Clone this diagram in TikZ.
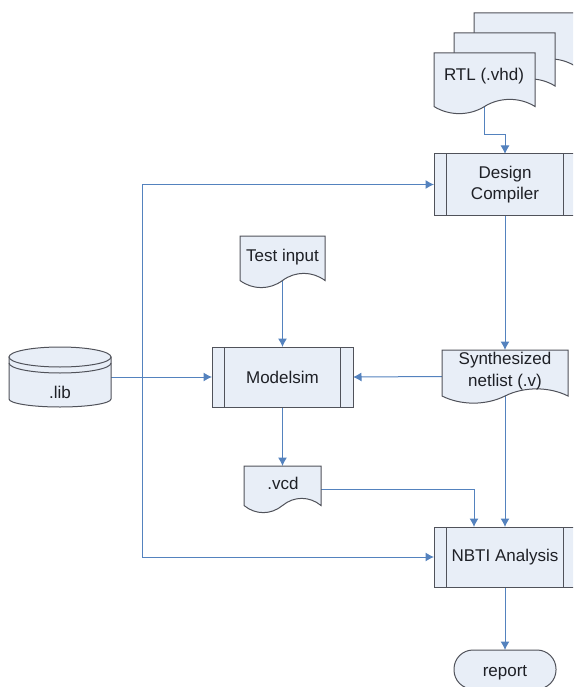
\documentclass[tikz,border=0pt]{standalone}
\usepackage{fontspec}
\setmainfont{Liberation Sans}
\usetikzlibrary{arrows.meta,backgrounds}
\definecolor{shapefill}{RGB}{232,238,247}
\definecolor{shapeline}{RGB}{80,82,90}
\definecolor{linkblue}{RGB}{84,130,190}
\definecolor{txt}{RGB}{30,32,38}
\tikzset{
  x=1pt,y=-1pt,
  outline/.style={draw=shapeline,fill=shapefill,line width=1pt,line join=miter},
  procbox/.style={outline,rectangle,minimum height=61pt,inner sep=0pt,outer sep=0pt,
    font=\fontsize{17}{21.5}\selectfont,text=txt,align=center},
  anchorbox/.style={rectangle,inner sep=0pt,outer sep=0pt},
  lbl/.style={anchor=base,inner sep=0pt,outer sep=0pt,font=\fontsize{17}{22}\selectfont,text=txt,align=center},
  link/.style={draw=linkblue,line width=1pt},
  arr/.style={link,-{Latex[length=8.5pt,width=9pt]}},
}
% name, x1, y1, x2, y2 (wave ends)
\newcommand{\docshape}[5]{%
  \pgfmathsetmacro{\docw}{#4-#2}%
  \pgfmathsetmacro{\dxa}{#2+.15*\docw}\pgfmathsetmacro{\dxb}{#2+.35*\docw}%
  \pgfmathsetmacro{\dxc}{#2+.5*\docw}%
  \pgfmathsetmacro{\dxd}{#2+.65*\docw}\pgfmathsetmacro{\dxe}{#2+.85*\docw}%
  \pgfmathsetmacro{\dyp}{#5+9.5}\pgfmathsetmacro{\dym}{#5-9.5}%
  \pgfmathsetmacro{\dyl}{#5+7}%
  \pgfmathsetmacro{\dhh}{\dyl-#3}%
  \pgfmathsetmacro{\dcx}{(#2+#4)/2}\pgfmathsetmacro{\dcy}{(#3+\dyl)/2}%
  \path[outline] (#2,#3) -- (#4,#3) -- (#4,#5)
    .. controls (\dxe,\dym) and (\dxd,\dym) .. (\dxc,#5)
    .. controls (\dxb,\dyp) and (\dxa,\dyp) .. (#2,#5) -- cycle;
  \node[anchorbox,minimum width=\docw pt,minimum height=\dhh pt] (#1) at (\dcx,\dcy) {};%
}
\newcommand{\bars}[1]{%
  \draw[draw=shapeline,line width=1pt] ([xshift=12pt]#1.north west) -- ([xshift=12pt]#1.south west);
  \draw[draw=shapeline,line width=1pt] ([xshift=-13pt]#1.north east) -- ([xshift=-13pt]#1.south east);
}
\begin{document}
\begin{tikzpicture}
\useasboundingbox (0,0) rectangle (573,687);
\clip (0,0) rectangle (573,687);
% stacked documents
\docshape{rtlc}{474}{13}{575}{66}
\docshape{rtlb}{454}{33}{555}{86}
\docshape{rtl}{434}{53}{535}{106.5}
\node[lbl] (rtlT) at (484,81) {RTL (.vhd)};
% process boxes
\node[procbox,minimum width=142pt] (dc) at (505,184.5) {Design\\Compiler};
\bars{dc}
\node[procbox,minimum width=141pt,minimum height=60pt] (ms) at (282.5,377) {Modelsim};
\bars{ms}
\node[procbox,minimum width=142pt,minimum height=60pt] (nbti) at (505,557) {NBTI Analysis};
\bars{nbti}
% documents
\docshape{ti}{240}{236}{325}{280.5}
\node[lbl] (tiT) at (282.5,261) {Test input};
\docshape{syn}{442}{350}{568}{396}
\node[lbl] (synT) at (505,386) {Synthesized\\netlist (.v)};
\docshape{vcd}{244}{466}{321}{505.5}
\node[lbl] (vcdT) at (283,489) {.vcd};
% database
\path[outline] (9,357) -- (9,399) arc[start angle=180,end angle=0,x radius=51,y radius=8] -- (111,357) -- cycle;
\path[outline] (60,357) ellipse[x radius=51,y radius=10];
\draw[draw=shapeline,line width=1pt] (9,363) arc[start angle=180,end angle=0,x radius=51,y radius=10];
\node[anchorbox,minimum width=102pt,minimum height=60pt] (lib) at (60,377) {};
\node[lbl] (libT) at (60,398) {.lib};
% terminator
\node[outline,rectangle,rounded corners=19pt,minimum width=102pt,minimum height=39pt,inner sep=0pt,outer sep=0pt,
  font=\fontsize{17}{21}\selectfont,text=txt,text height=13pt,text depth=0pt] (rep) at (505,669.5) {report};
% connectors
\coordinate (bend) at (505,135);
\coordinate (jn) at (142,377);
\begin{scope}[on background layer]
\draw[arr] (rtl.center) |- (bend) -- (dc.north);
\draw[arr] (dc.south) -- (syn.north);
\draw[arr] (syn.west) -- (ms.east);
\draw[arr] (ti.center) -- (ms.north);
\draw[arr] (ms.south) -- (vcd.north);
\draw[arr] (lib.east) -- (ms.west);
\draw[arr] (jn) |- (dc.west);
\draw[arr] (jn) |- (nbti.west);
\draw[arr] (vcd.center) -| ([xshift=-31pt]nbti.north);
\draw[arr] (syn.center) -- (nbti.north);
\draw[arr] (nbti.south) -- (rep.north);
\end{scope}
\end{tikzpicture}
\end{document}
